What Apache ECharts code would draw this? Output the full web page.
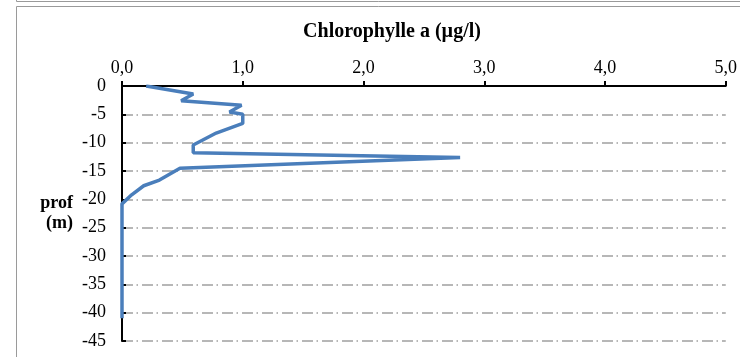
<!DOCTYPE html>
<html>
<head>
<meta charset="utf-8">
<script src="https://cdn.jsdelivr.net/npm/echarts@6/dist/echarts.min.js"></script>
<style>html,body{margin:0;padding:0;background:#fff}#c{width:740px;height:357px}</style>
</head>
<body>
<div id="c"></div>
<script>
var chlorophyll = [0.20, 0.59, 0.49, 0.99, 0.89, 1.00, 1.00, 0.78, 0.59, 0.59, 2.80, 0.48, 0.31, 0.18, 0.08, 0.00, 0.00];
var depth = [0, -1.4, -2.6, -3.4, -4.6, -5.0, -6.6, -8.3, -10.4, -11.8, -12.6, -14.5, -16.6, -17.6, -19.2, -20.8, -41.0];
var xTicks = ['0,0', '1,0', '2,0', '3,0', '4,0', '5,0'];
var chartTitle = 'Chlorophylle a (µg/l)';
var yName = 'prof\n(m)';

var pts = chlorophyll.map(function (v, i) { return [v, depth[i]]; });
var font = 'Liberation Serif, Times New Roman, serif';
var chart = echarts.init(document.getElementById('c'));
chart.setOption({
  animation: false,
  title: {
    text: chartTitle, left: 392, top: 22, textAlign: 'center', padding: 0,
    textStyle: { fontFamily: font, fontWeight: 'bold', fontSize: 20, color: '#000' }
  },
  grid: { left: 122, right: 13, top: 86, bottom: 16 },
  xAxis: {
    type: 'value', position: 'top', min: 0, max: 5, interval: 1,
    axisLine: { show: true, lineStyle: { color: '#000', width: 2 } },
    axisTick: { show: true, inside: false, length: 5, lineStyle: { color: '#000', width: 2 } },
    axisLabel: { fontFamily: font, fontSize: 18, color: '#000', margin: 9,
      formatter: function (v) { return xTicks[Math.round(v)]; } },
    splitLine: { show: false }
  },
  yAxis: {
    type: 'value', min: -45, max: 0, interval: 5,
    name: yName, nameLocation: 'middle', nameRotate: 0, nameGap: 49,
    nameTextStyle: { fontFamily: font, fontWeight: 'bold', fontSize: 18, color: '#000', lineHeight: 20, align: 'right' },
    axisLine: { show: true, onZero: false, lineStyle: { color: '#000', width: 2 } },
    axisTick: { show: true, inside: true, length: 4, lineStyle: { color: '#000', width: 2 } },
    axisLabel: { fontFamily: font, fontSize: 18, color: '#000', margin: 16 },
    splitLine: { show: true, lineStyle: { color: '#A0A0A0', width: 1.5, type: [11, 3.5, 1.5, 4] } }
  },
  graphic: [
    { type: 'rect', shape: { x: 16.5, y: -10, width: 760, height: 11.5 }, style: { fill: 'none', stroke: '#9a9a9a', lineWidth: 1 } },
    { type: 'rect', shape: { x: 16.5, y: 6.5, width: 760, height: 400 }, style: { fill: 'none', stroke: '#9a9a9a', lineWidth: 1 } }
  ],
  series: [{
    type: 'line', data: pts, showSymbol: false, symbol: 'none',
    lineStyle: { color: '#4A7EBB', width: 3.5 }
  }]
});
</script>
</body>
</html>
